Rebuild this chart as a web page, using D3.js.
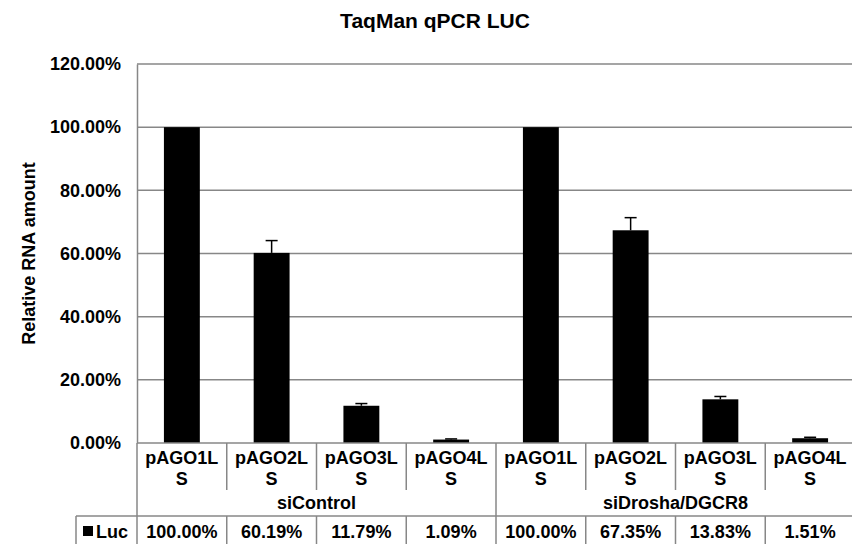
<!DOCTYPE html>
<html>
<head>
<meta charset="utf-8">
<script src="https://cdn.jsdelivr.net/npm/d3@7"></script>
<style>
  body { margin: 0; background: #fff; }
  svg text { font-family: "Liberation Sans", Arial, sans-serif; font-weight: bold; fill: #000; }
</style>
</head>
<body>
<div id="chart"></div>
<script>
// chart data
const groups = ["siControl", "siDrosha/DGCR8"];
const categories = ["pAGO1LS", "pAGO2LS", "pAGO3LS", "pAGO4LS"];
const lucControl = [1.0, 0.6019, 0.1179, 0.0109];
const lucDrosha = [1.0, 0.6735, 0.1383, 0.0151];
const errControl = [0, 0.039, 0.007, 0.002];
const errDrosha = [0, 0.040, 0.009, 0.003];
const yTicks = [0, 0.2, 0.4, 0.6, 0.8, 1.0, 1.2];
const seriesName = "Luc";

const W = 852, H = 544;
const margin = { left: 137, top: 64 };
const plotBottom = 443;
const cellW = 89.75;
const gridColor = "#878787";
const fs = "18px";

const rows = [];
groups.forEach((g, gi) => {
  const vals = gi === 0 ? lucControl : lucDrosha;
  const errs = gi === 0 ? errControl : errDrosha;
  categories.forEach((c, ci) => rows.push({ key: g + "|" + c, group: g, cat: c, value: vals[ci], err: errs[ci] }));
});

const svg = d3.select("#chart").append("svg")
  .attr("width", W).attr("height", H);

const x = d3.scaleBand()
  .domain(rows.map(d => d.key))
  .range([margin.left, margin.left + rows.length * cellW])
  .paddingInner(0.6).paddingOuter(0.3);

const y = d3.scaleLinear().domain([0, 1.2]).range([plotBottom, margin.top]);

// title
svg.append("text")
  .attr("x", 435).attr("y", 28)
  .attr("text-anchor", "middle")
  .style("font-size", "21px")
  .text("TaqMan qPCR LUC");

// y axis title
svg.append("text")
  .attr("transform", `translate(35,${(margin.top + plotBottom) / 2}) rotate(-90)`)
  .attr("text-anchor", "middle")
  .style("font-size", fs)
  .text("Relative RNA amount");

const xRight = x.range()[1];

// gridlines
svg.append("g").selectAll("line")
  .data(yTicks.filter(t => t > 0))
  .join("line")
    .attr("x1", margin.left).attr("x2", xRight)
    .attr("y1", d => y(d)).attr("y2", d => y(d))
    .attr("stroke", gridColor).attr("stroke-width", 1.5);

// y axis
const yAxis = svg.append("g")
  .attr("transform", `translate(${margin.left},0)`)
  .call(d3.axisLeft(y).tickValues(yTicks).tickFormat(d3.format(".2%")).tickSize(0).tickPadding(16));
yAxis.select(".domain").attr("stroke", gridColor).attr("stroke-width", 1.5);
yAxis.selectAll("text").style("font-size", fs).style("font-family", "Liberation Sans, Arial, sans-serif");

// bars
svg.append("g").selectAll("rect")
  .data(rows)
  .join("rect")
    .attr("x", d => x(d.key))
    .attr("y", d => y(d.value))
    .attr("width", x.bandwidth())
    .attr("height", d => y(0) - y(d.value))
    .attr("fill", "#000");

// error bars (plus side only)
const eb = svg.append("g").attr("stroke", "#000").attr("stroke-width", 1.5);
rows.filter(d => d.err > 0).forEach(d => {
  const cx = x(d.key) + x.bandwidth() / 2;
  const top = y(d.value + d.err);
  eb.append("line").attr("x1", cx).attr("x2", cx).attr("y1", y(d.value)).attr("y2", top);
  eb.append("line").attr("x1", cx - 6).attr("x2", cx + 6).attr("y1", top).attr("y2", top);
});

// table under the plot
const catRowBottom = 490, groupRowBottom = 516, lucRowBottom = 548;
const legendLeft = 76;
const tbl = svg.append("g").attr("stroke", gridColor).attr("stroke-width", 1.5);
const cellLeft = i => margin.left + i * cellW;

tbl.append("line").attr("x1", margin.left).attr("x2", xRight).attr("y1", plotBottom).attr("y2", plotBottom);
tbl.append("line").attr("x1", legendLeft).attr("x2", xRight).attr("y1", groupRowBottom).attr("y2", groupRowBottom);
tbl.append("line").attr("x1", legendLeft).attr("x2", xRight).attr("y1", lucRowBottom).attr("y2", lucRowBottom);
tbl.append("line").attr("x1", legendLeft).attr("x2", legendLeft).attr("y1", groupRowBottom).attr("y2", lucRowBottom);

d3.range(rows.length + 1).forEach(i => {
  const isGroupEdge = i % categories.length === 0;
  tbl.append("line")
    .attr("x1", cellLeft(i)).attr("x2", cellLeft(i))
    .attr("y1", plotBottom).attr("y2", isGroupEdge ? groupRowBottom : catRowBottom);
  tbl.append("line")
    .attr("x1", cellLeft(i)).attr("x2", cellLeft(i))
    .attr("y1", groupRowBottom).attr("y2", lucRowBottom);
});

// category labels, wrapped by characters like Excel does
const catText = svg.append("g").selectAll("text")
  .data(rows)
  .join("text")
    .attr("x", d => x(d.key) + x.bandwidth() / 2)
    .attr("text-anchor", "middle")
    .style("font-size", fs);

catText.each(function (d) {
  const t = d3.select(this);
  const lines = [];
  let cur = "";
  for (const ch of d.cat) {
    t.text(cur + ch);
    if (this.getComputedTextLength() > cellW - 12 && cur) { lines.push(cur); cur = ch; }
    else cur += ch;
  }
  lines.push(cur);
  t.text(null);
  lines.forEach((ln, i) => t.append("tspan").attr("x", x(d.key) + x.bandwidth() / 2).attr("y", 464 + i * 21).text(ln));
});

// group labels
svg.append("g").selectAll("text")
  .data(groups)
  .join("text")
    .attr("x", (d, i) => cellLeft(i * categories.length) + categories.length * cellW / 2)
    .attr("y", 509)
    .attr("text-anchor", "middle")
    .style("font-size", fs)
    .text(d => d);

// data table values
svg.append("g").selectAll("text")
  .data(rows)
  .join("text")
    .attr("x", d => x(d.key) + x.bandwidth() / 2)
    .attr("y", 538)
    .attr("text-anchor", "middle")
    .style("font-size", fs)
    .text(d => d3.format(".2%")(d.value));

// legend key in the data table
svg.append("rect").attr("x", 83).attr("y", 526).attr("width", 10).attr("height", 10).attr("fill", "#000");
svg.append("text").attr("x", 96).attr("y", 538).style("font-size", fs).text(seriesName);
</script>
</body>
</html>
